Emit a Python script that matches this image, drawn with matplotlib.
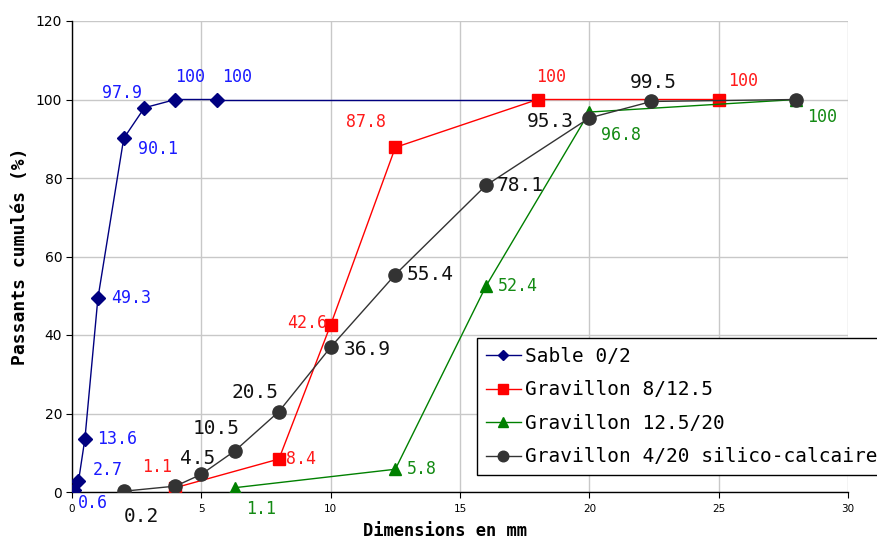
import matplotlib
matplotlib.use("Agg")
import matplotlib.pyplot as plt

# ---- data ----
sable_x = [0.06, 0.25, 0.5, 1.0, 2.0, 2.8, 4.0, 5.6]
sable_y = [0.6, 2.7, 13.6, 49.3, 90.1, 97.9, 100, 100]
sable_line_end_x = 18.0

g812_x = [4.0, 8.0, 10.0, 12.5, 18.0, 25.0]
g812_y = [1.1, 8.4, 42.6, 87.8, 100, 100]

g1220_x = [6.3, 12.5, 16.0, 20.0, 28.0]
g1220_y = [1.1, 5.8, 52.4, 96.8, 100]

g420_x = [2.0, 4.0, 5.0, 6.3, 8.0, 10.0, 12.5, 16.0, 20.0, 22.4, 28.0]
g420_y = [0.2, 1.5, 4.5, 10.5, 20.5, 36.9, 55.4, 78.1, 95.3, 99.5, 100]

labels = ["Sable 0/2", "Gravillon 8/12.5", "Gravillon 12.5/20",
          "Gravillon 4/20 silico-calcaire"]

# label offsets in pixels (dx, dy up); None = no label
sable_off = [(19, -13), (29, 11), (32, 0), (33, 0), (34, -11), (-22, 15), (15, 23), (20, 23)]
g812_off = [(-18, 21), (22, 0), (-24, 2), (-29, 25), (13, 23), (24, 18)]
g1220_off = [(26, -21), (27, 0), (32, 0), (32, -23), (26, -17)]
g420_off = [(18, -25), None, (-4, 16), (-19, 22), (-24, 19), (37, -2), (35, 0),
            (34, 0), (-39, -4), (2, 19), None]

mono = "DejaVu Sans Mono"

fig = plt.figure(figsize=(8.78, 5.42), dpi=100)
ax = fig.add_axes([72/878, 1-492/542, (848-72)/878, (492-21)/542])

navy = "#000080"
ax.plot([sable_x[-1], sable_line_end_x], [sable_y[-1], sable_y[-1]], color=navy, lw=1, zorder=2)
h1, = ax.plot(sable_x, sable_y, color=navy, lw=1, marker="D", ms=7, mfc=navy, mec=navy, zorder=3)
h2, = ax.plot(g812_x, g812_y, color="#FF0000", lw=1, marker="s", ms=8.5, zorder=3)
h3, = ax.plot(g1220_x, g1220_y, color="#008000", lw=1, marker="^", ms=9, zorder=3)
h4, = ax.plot(g420_x, g420_y, color="#333333", lw=1, marker="o", ms=9.5, zorder=4)

def fmt(v):
    return f"{v:g}"

def annot(xs, ys, offs, color, size):
    for x, y, o in zip(xs, ys, offs):
        if o is None:
            continue
        ax.annotate(fmt(y), (x, y), xytext=o, textcoords="offset pixels",
                    ha="center", va="center", color=color, fontsize=size,
                    family=mono, zorder=6, annotation_clip=False)

annot(sable_x, sable_y, sable_off, "#1a1aff", 12)
annot(g812_x, g812_y, g812_off, "#ff1a1a", 12)
annot(g1220_x, g1220_y, g1220_off, "#138a13", 12)
annot(g420_x, g420_y, g420_off, "#111111", 14)

ax.set_xlim(0, 30)
ax.set_ylim(0, 120)
ax.set_xticks(range(0, 31, 5))
ax.set_yticks(range(0, 121, 20))
ax.grid(True, color="#c8c8c8", lw=1)
ax.set_axisbelow(True)
ax.spines["top"].set_visible(False)
ax.spines["right"].set_visible(False)
ax.spines["left"].set_linewidth(1)
ax.spines["bottom"].set_linewidth(1)
ax.tick_params(axis="x", labelsize=7.5, length=4, direction="out", pad=5)
ax.tick_params(axis="y", labelsize=10, length=4, direction="out", pad=3)

fig.text(445/878, 1-531/542, "Dimensions en mm", family=mono, fontweight="bold",
         fontsize=12.3, ha="center", va="center")
fig.text(20/878, 1-256/542, "Passants cumulés (%)", family=mono, fontweight="bold",
         fontsize=13, ha="center", va="center", rotation=90)

leg = ax.legend([h1, h2, h3, h4], labels, loc="upper left",
                bbox_to_anchor=(477/878, 1-338/542), bbox_transform=fig.transFigure,
                prop={"family": mono, "size": 14}, frameon=True, fancybox=False,
                edgecolor="black", framealpha=1, handlelength=1.82,
                handletextpad=0.2, labelspacing=0.75, borderpad=0.45,
                borderaxespad=0, markerscale=0.8)
leg.get_frame().set_linewidth(1)
leg.set_zorder(10)

fig.savefig("out.png", dpi=100)
